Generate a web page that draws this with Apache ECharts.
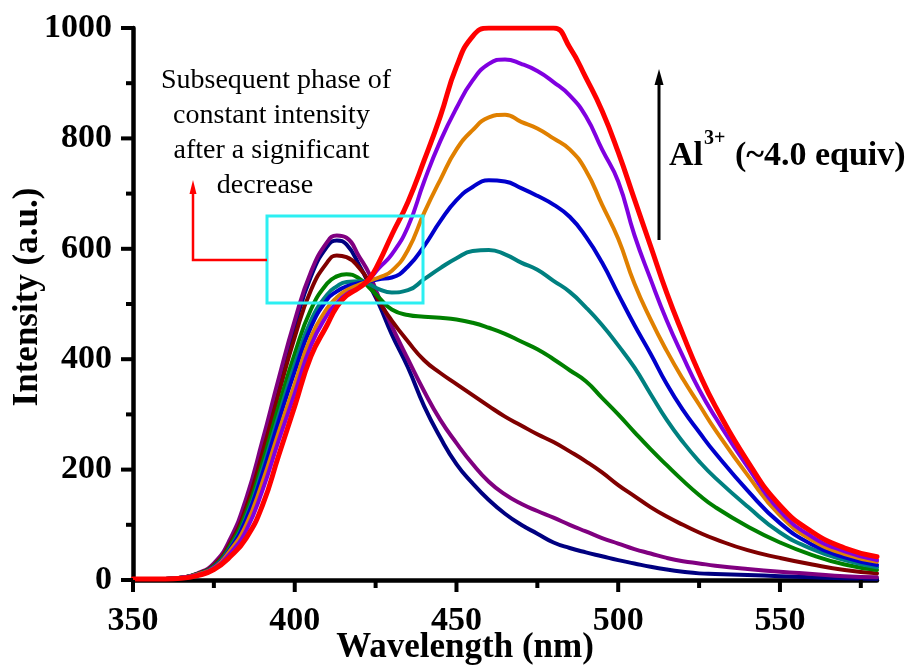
<!DOCTYPE html>
<html>
<head>
<meta charset="utf-8">
<title>Emission spectra with Al3+</title>
<script src="https://cdn.jsdelivr.net/npm/echarts@6/dist/echarts.min.js"></script>
<style>
  html, body { margin: 0; padding: 0; background: #ffffff; }
  #chart { width: 915px; height: 668px; }
</style>
</head>
<body>
<div id="chart"></div>
<script>
// Emission wavelengths (nm) shared by every spectrum
const wavelengths = [350, 360, 365, 370, 375, 380, 385, 390, 395, 400, 405, 410, 413, 416, 420, 423, 426, 430, 435, 440,
  445, 450, 455, 460, 465, 470, 475, 480, 485, 490, 495, 500, 505, 510, 515, 520, 525, 530, 540, 550, 560, 570, 580];

// Intensity (a.u.) of each titration step
const sNavy   = [2, 2, 4, 11, 28, 70, 140, 244, 355, 460, 550, 604, 615, 608, 570, 535, 500, 445, 385, 315,
  258, 210, 175, 145, 120, 100, 84, 68, 58, 50, 43, 36, 30, 24, 19, 15, 12, 11, 9, 7, 5, 3, 2];
const sPurple = [2, 2, 4, 12, 30, 74, 148, 252, 364, 470, 558, 612, 624, 620, 585, 555, 512, 460, 400, 342,
  290, 248, 210, 178, 155, 138, 125, 113, 100, 88, 76, 66, 56, 48, 40, 34, 30, 26, 20, 15, 11, 7, 5];
const sMaroon = [2, 2, 4, 11, 27, 66, 132, 230, 337, 440, 525, 575, 588, 585, 565, 540, 505, 470, 432, 398,
  375, 355, 335, 315, 296, 280, 264, 250, 233, 215, 195, 172, 152, 132, 115, 100, 86, 74, 54, 40, 28, 18, 12];
const sGreen  = [2, 2, 4, 11, 25, 62, 122, 212, 314, 410, 490, 537, 550, 554, 546, 530, 512, 490, 480, 477,
  475, 472, 466, 457, 446, 432, 418, 400, 380, 360, 330, 300, 268, 237, 208, 180, 154, 132, 97, 68, 45, 28, 18];
const sTeal   = [2, 2, 4, 10, 24, 58, 114, 200, 297, 390, 470, 517, 532, 540, 541, 536, 527, 521, 525, 545,
  565, 583, 596, 598, 590, 575, 562, 542, 522, 494, 462, 425, 385, 337, 290, 250, 215, 185, 133, 86, 56, 36, 23];
const sBlue   = [2, 2, 4, 10, 23, 56, 110, 192, 287, 378, 458, 508, 523, 532, 538, 541, 545, 548, 568, 605,
  650, 688, 712, 724, 722, 710, 696, 680, 658, 622, 575, 518, 462, 410, 355, 308, 268, 230, 162, 103, 64, 41, 27];
const sOrange = [2, 2, 4, 10, 22, 53, 100, 177, 267, 355, 440, 492, 512, 525, 535, 542, 548, 560, 598, 665,
  725, 780, 815, 838, 843, 830, 818, 800, 780, 742, 680, 618, 537, 472, 415, 364, 318, 272, 190, 117, 72, 47, 33];
const sViolet = [2, 2, 4, 9, 21, 48, 90, 162, 252, 338, 425, 480, 502, 518, 530, 545, 565, 590, 640, 722,
  795, 855, 905, 935, 943, 935, 922, 902, 878, 840, 780, 722, 625, 545, 470, 405, 345, 295, 205, 125, 78, 52, 36];
const sRed    = [2, 2, 3, 8, 19, 42, 76, 135, 225, 315, 405, 462, 495, 515, 530, 545, 575, 625, 685, 760,
  840, 930, 985, 1000, 1000, 1000, 1000, 1000, 965, 910, 850, 775, 690, 605, 520, 445, 375, 315, 215, 135, 87, 58, 42];

// Axis ticks
const xMajorTicks = [350, 400, 450, 500, 550];
const xMinorTicks = [375, 425, 475, 525, 575];
const yMajorTicks = [0, 200, 400, 600, 800, 1000];
const yMinorTicks = [100, 300, 500, 700, 900];

// Axis titles and annotation text
const xTitle = 'Wavelength (nm)';
const yTitle = 'Intensity (a.u.)';
const noteLines = ['Subsequent phase of', 'constant intensity', 'after a significant', 'decrease'];
const ionText = 'Al';
const ionCharge = '3+';
const ionAmount = ' (~4.0 equiv)';

const spectra = [
  { name: 'navy',   values: sNavy,   color: '#000080', width: 4 },
  { name: 'purple', values: sPurple, color: '#800080', width: 4 },
  { name: 'maroon', values: sMaroon, color: '#800000', width: 4 },
  { name: 'green',  values: sGreen,  color: '#008000', width: 4 },
  { name: 'teal',   values: sTeal,   color: '#008080', width: 4 },
  { name: 'blue',   values: sBlue,   color: '#0000CC', width: 4 },
  { name: 'orange', values: sOrange, color: '#E08000', width: 4 },
  { name: 'violet', values: sViolet, color: '#8000E0', width: 4 },
  { name: 'red',    values: sRed,    color: '#FF0000', width: 5 }
];

const SERIF = '"Liberation Serif", "Times New Roman", Times, serif';

// Measure text so the superscript sits right after "Al"
const measureCtx = document.createElement('canvas').getContext('2d');
function textWidth(str, font) {
  measureCtx.font = font;
  return measureCtx.measureText(str).width;
}

const ionX = 669;
const ionY = 156;
const ionFont = 'bold 34px ' + SERIF;
const supFont = 'bold 20px ' + SERIF;
const wAl = textWidth(ionText, ionFont);
const wSup = textWidth(ionCharge, supFont);
const noteFont = '28px ' + SERIF;
const titleFont = 'bold 35px ' + SERIF;

const chart = echarts.init(document.getElementById('chart'), null, { renderer: 'canvas' });

const axisFont = { fontFamily: SERIF, fontWeight: 'bold', fontSize: 34, color: '#000' };

function label(x, y, text, font, align) {
  return { type: 'text', x: x, y: y, z: 100,
    style: { text: text, font: font, fill: '#000', textAlign: align || 'center', textVerticalAlign: 'middle' } };
}

const annotations = [
  // axis titles
  label(465, 648, xTitle, titleFont),
  Object.assign(label(28, 297, yTitle, titleFont), { rotation: Math.PI / 2 }),
  // highlighted region around the isosbestic crossing
  { type: 'rect', shape: { x: 267, y: 216, width: 156, height: 87 },
    style: { fill: 'none', stroke: '#2CEFF2', lineWidth: 3 }, z: 100 },
  // red elbow arrow pointing at the note
  { type: 'polyline', shape: { points: [[267, 260], [193, 260], [193, 192]] },
    style: { stroke: '#FF0000', lineWidth: 2.5, fill: 'none' }, z: 100 },
  { type: 'polygon', shape: { points: [[193, 180], [189.5, 194], [196.5, 194]] },
    style: { fill: '#FF0000' }, z: 100 },
  // black arrow for increasing Al3+
  { type: 'line', shape: { x1: 659, y1: 240, x2: 659, y2: 82 },
    style: { stroke: '#000', lineWidth: 3 }, z: 100 },
  { type: 'polygon', shape: { points: [[659, 69], [654.5, 85], [663.5, 85]] },
    style: { fill: '#000' }, z: 100 },
  // note text
  label(276, 81, noteLines[0], noteFont),
  label(271.5, 116, noteLines[1], noteFont),
  label(271.5, 151, noteLines[2], noteFont),
  label(265, 186, noteLines[3], noteFont),
  // Al3+ label
  label(ionX, ionY, ionText, ionFont, 'left'),
  label(ionX + wAl + 1, ionY - 17, ionCharge, supFont, 'left'),
  label(ionX + wAl + wSup + 2, ionY, ionAmount, ionFont, 'left')
];

const option = {
  animation: false,
  backgroundColor: '#ffffff',
  grid: { left: 133, right: 38, top: 28, bottom: 88, containLabel: false, outerBoundsMode: 'none' },
  xAxis: {
    type: 'value', min: 350, max: 580,
    axisLine: { show: true, onZero: false, lineStyle: { color: '#000', width: 4.5 } },
    axisTick: { show: false },
    axisLabel: Object.assign({ show: true, customValues: xMajorTicks, margin: 24 }, axisFont),
    splitLine: { show: false }
  },
  yAxis: {
    type: 'value', min: 0, max: 1000, interval: 200,
    axisLine: { show: true, onZero: false, lineStyle: { color: '#000', width: 4.5 } },
    axisTick: { show: false },
    axisLabel: Object.assign({ show: true, margin: 21, formatter: v => String(v) }, axisFont),
    splitLine: { show: false }
  },
  series: spectra.map(s => ({
    name: s.name,
    type: 'line',
    data: wavelengths.map((w, i) => [w, s.values[i]]),
    showSymbol: false,
    smooth: 0.5,
    clip: true,
    silent: true,
    lineStyle: { color: s.color, width: s.width, join: 'round', cap: 'round' },
    itemStyle: { color: s.color }
  })),
  graphic: annotations
};

chart.setOption(option);

// Outward tick marks placed through the axis scales
const axisY = chart.convertToPixel({ yAxisIndex: 0 }, 0);
const axisX = chart.convertToPixel({ xAxisIndex: 0 }, 350);
const tickMarks = [];
function addXTicks(values, len) {
  values.forEach(v => {
    const px = chart.convertToPixel({ xAxisIndex: 0 }, v);
    tickMarks.push({ type: 'line', z: 90, silent: true,
      shape: { x1: px, y1: axisY, x2: px, y2: axisY + len },
      style: { stroke: '#000', lineWidth: 4 } });
  });
}
function addYTicks(values, len) {
  values.forEach(v => {
    const py = chart.convertToPixel({ yAxisIndex: 0 }, v);
    tickMarks.push({ type: 'line', z: 90, silent: true,
      shape: { x1: axisX, y1: py, x2: axisX - len, y2: py },
      style: { stroke: '#000', lineWidth: 4 } });
  });
}
addXTicks(xMajorTicks, 12);
addXTicks(xMinorTicks, 8);
addYTicks(yMajorTicks, 12);
addYTicks(yMinorTicks, 7);

chart.setOption({ graphic: annotations.concat(tickMarks) });
</script>
</body>
</html>
